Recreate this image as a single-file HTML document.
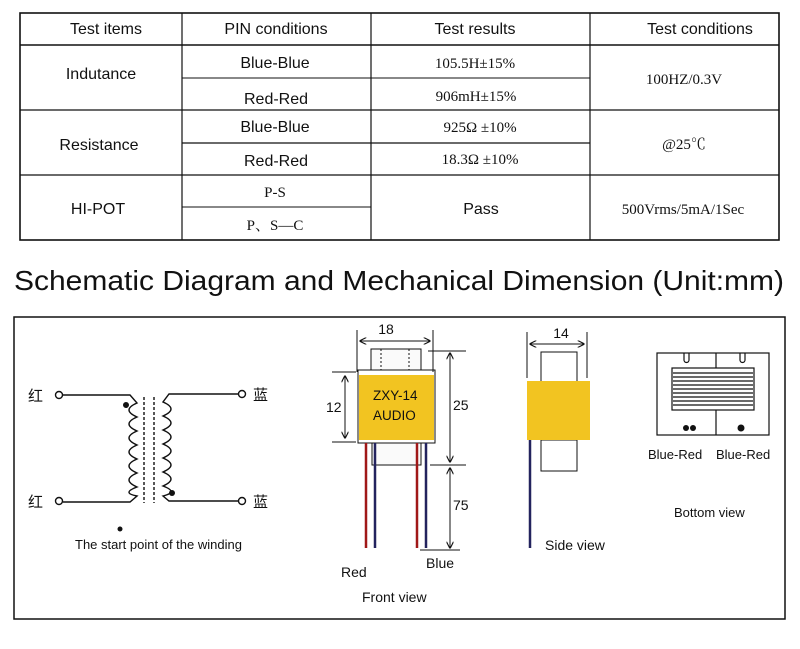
<!DOCTYPE html>
<html><head><meta charset="utf-8"><style>
html,body{margin:0;padding:0;background:#fff;}
svg{display:block;}
text{font-family:"Liberation Sans","Noto Sans CJK SC",sans-serif;fill:#111;}
.s{font-family:"Liberation Serif","Noto Serif CJK SC",serif;}
</style></head><body>
<svg width="800" height="649" viewBox="0 0 800 649" xmlns="http://www.w3.org/2000/svg">
<defs>
<marker id="a" viewBox="0 0 10 10" refX="9" refY="5" markerWidth="7" markerHeight="7" orient="auto-start-reverse"><path d="M0,0 L10,5 L0,10" fill="none" stroke="#111" stroke-width="1.6"/></marker>
</defs>
<!-- table -->
<g stroke="#111" fill="none">
<rect x="20" y="13" width="759" height="227" stroke-width="1.6"/>
<line x1="182" y1="13" x2="182" y2="240" stroke-width="1.2"/>
<line x1="371" y1="13" x2="371" y2="240" stroke-width="1.2"/>
<line x1="590" y1="13" x2="590" y2="240" stroke-width="1.2"/>
<line x1="20" y1="45" x2="779" y2="45" stroke-width="1.6"/>
<line x1="20" y1="110" x2="779" y2="110" stroke-width="1.2"/>
<line x1="20" y1="175" x2="779" y2="175" stroke-width="1.2"/>
<line x1="182" y1="78" x2="590" y2="78" stroke-width="1"/>
<line x1="182" y1="143" x2="590" y2="143" stroke-width="1.2"/>
<line x1="182" y1="207" x2="371" y2="207" stroke-width="1"/>
</g>
<g font-size="16" text-anchor="middle">
<text x="106" y="34">Test items</text>
<text x="276" y="34">PIN conditions</text>
<text x="475" y="34">Test results</text>
<text x="700" y="34">Test conditions</text>
<text x="101" y="79">Indutance</text>
<text x="275" y="68">Blue-Blue</text>
<text x="276" y="104">Red-Red</text>
<text x="99" y="150">Resistance</text>
<text x="275" y="132">Blue-Blue</text>
<text x="276" y="166">Red-Red</text>
<text x="98" y="214">HI-POT</text>
<text x="481" y="214">Pass</text>
</g>
<g font-size="15" text-anchor="middle" class="s">
<text class="s" x="275" y="197">P-S</text>
<text class="s" x="275" y="230">P、S—C</text>
<text class="s" x="475" y="68">105.5H±15%</text>
<text class="s" x="476" y="101">906mH±15%</text>
<text class="s" x="480" y="132">925Ω ±10%</text>
<text class="s" x="480" y="164">18.3Ω ±10%</text>
<text class="s" x="684" y="84">100HZ/0.3V</text>
<text class="s" x="684" y="149">@25℃</text>
<text class="s" x="683" y="214">500Vrms/5mA/1Sec</text>
</g>
<!-- title -->
<text x="14" y="290" font-size="28" textLength="770" lengthAdjust="spacingAndGlyphs">Schematic Diagram and Mechanical Dimension (Unit:mm)</text>
<rect x="14" y="317" width="771" height="302" fill="none" stroke="#111" stroke-width="1.5"/>
<!-- schematic -->
<g stroke="#111" stroke-width="1.4" fill="none">
<circle cx="59" cy="395" r="3.5" fill="#fff"/>
<circle cx="59" cy="501" r="3.5" fill="#fff"/>
<circle cx="242" cy="394" r="3.5" fill="#fff"/>
<circle cx="242" cy="501" r="3.5" fill="#fff"/>
<path d="M63,395 H130 L137,403 Q121,410 137,417 Q121,424 137,431 Q121,438 137,445 Q121,452 137,459 Q121,466 137,473 Q121,480 137,487 Q121,493 137,496 L130,502 H63"/>
<path d="M238,394 H169 L163,402 Q179,409 163,416 Q179,423 163,430 Q179,437 163,444 Q179,451 163,458 Q179,465 163,472 Q179,479 163,486 Q179,492 163,496 L169,501 H238"/>
<line x1="144" y1="397" x2="144" y2="503" stroke-dasharray="3,2"/>
<line x1="154" y1="397" x2="154" y2="503" stroke-dasharray="3,2"/>
</g>
<circle cx="126" cy="405" r="3" fill="#111"/>
<circle cx="172" cy="493" r="3" fill="#111"/>
<circle cx="120" cy="529" r="2.5" fill="#111"/>
<g font-size="15"><text x="28" y="401">红</text><text x="28" y="507">红</text><text x="253" y="400">蓝</text><text x="253" y="507">蓝</text></g>
<text x="75" y="549" font-size="13">The start point of the winding</text>
<!-- front view -->
<g stroke="#111" stroke-width="1" fill="none">
<rect x="371" y="349" width="50" height="22" fill="#fafafa"/>
<line x1="381" y1="349" x2="381" y2="371" stroke-dasharray="2,2"/>
<line x1="409" y1="349" x2="409" y2="371" stroke-dasharray="2,2"/>
<rect x="372" y="443" width="49" height="22" fill="#fafafa"/>
<rect x="358" y="370" width="77" height="73" fill="#fff"/>
</g>
<rect x="359" y="375" width="75" height="65" fill="#f2c421"/>
<g stroke-width="2.5">
<line x1="366" y1="443" x2="366" y2="548" stroke="#a01818"/>
<line x1="375" y1="443" x2="375" y2="548" stroke="#23235e"/>
<line x1="417" y1="443" x2="417" y2="548" stroke="#a01818"/>
<line x1="426" y1="443" x2="426" y2="548" stroke="#23235e"/>
</g>
<g stroke="#111" stroke-width="1" fill="none">
<line x1="357" y1="330" x2="357" y2="372"/><line x1="433" y1="330" x2="433" y2="372"/>
<line x1="360" y1="341" x2="430" y2="341" marker-start="url(#a)" marker-end="url(#a)"/>
<line x1="332" y1="372" x2="356" y2="372"/><line x1="332" y1="442" x2="356" y2="442"/>
<line x1="345" y1="376" x2="345" y2="438" marker-start="url(#a)" marker-end="url(#a)"/>
<line x1="428" y1="351" x2="466" y2="351"/><line x1="430" y1="465" x2="466" y2="465"/>
<line x1="450" y1="353" x2="450" y2="462" marker-start="url(#a)" marker-end="url(#a)"/>
<line x1="450" y1="468" x2="450" y2="548" marker-start="url(#a)" marker-end="url(#a)"/>
<line x1="420" y1="550" x2="460" y2="550"/>
</g>
<g font-size="14">
<text x="386" y="334" text-anchor="middle">18</text>
<text x="326" y="412">12</text>
<text x="373" y="400" font-size="13.5">ZXY-14</text>
<text x="373" y="420" font-size="13.5">AUDIO</text>
<text x="453" y="410">25</text>
<text x="453" y="510">75</text>
<text x="341" y="577">Red</text>
<text x="426" y="568">Blue</text>
<text x="362" y="602">Front view</text>
</g>
<!-- side view -->
<g stroke="#111" stroke-width="1" fill="none">
<rect x="541" y="352" width="36" height="30" fill="#fff"/>
<rect x="541" y="440" width="36" height="31" fill="#fff"/>
<line x1="527" y1="332" x2="527" y2="378"/><line x1="587" y1="332" x2="587" y2="378"/>
<line x1="530" y1="344" x2="584" y2="344" marker-start="url(#a)" marker-end="url(#a)"/>
</g>
<rect x="527" y="381" width="63" height="59" fill="#f2c421"/>
<line x1="530" y1="440" x2="530" y2="548" stroke="#23235e" stroke-width="2.5"/>
<text x="561" y="338" font-size="14" text-anchor="middle">14</text>
<text x="545" y="550" font-size="14">Side view</text>
<!-- bottom view -->
<g stroke="#111" stroke-width="1.2" fill="none">
<rect x="657" y="353" width="112" height="82" fill="#fff"/>
<line x1="716" y1="353" x2="716" y2="435"/>
<path d="M684,353 V360 A2.5,2.5 0 0 0 689,360 V353"/>
<path d="M740,353 V360 A2.5,2.5 0 0 0 745,360 V353"/>
<rect x="672" y="368" width="82" height="42" fill="#fff"/>
</g>
<g stroke="#111" stroke-width="1.3">
<line x1="673" y1="373" x2="753" y2="373"/><line x1="673" y1="377" x2="753" y2="377"/>
<line x1="673" y1="381" x2="753" y2="381"/><line x1="673" y1="385" x2="753" y2="385"/>
<line x1="673" y1="389" x2="753" y2="389"/><line x1="673" y1="393" x2="753" y2="393"/>
<line x1="673" y1="397" x2="753" y2="397"/><line x1="673" y1="401" x2="753" y2="401"/>
<line x1="673" y1="405" x2="753" y2="405"/>
</g>
<circle cx="686" cy="428" r="3" fill="#111"/><circle cx="693" cy="428" r="3" fill="#111"/>
<circle cx="741" cy="428" r="3.5" fill="#111"/>
<text x="648" y="459" font-size="13">Blue-Red</text>
<text x="716" y="459" font-size="13">Blue-Red</text>
<text x="674" y="517" font-size="13">Bottom view</text>
</svg>
</body></html>
